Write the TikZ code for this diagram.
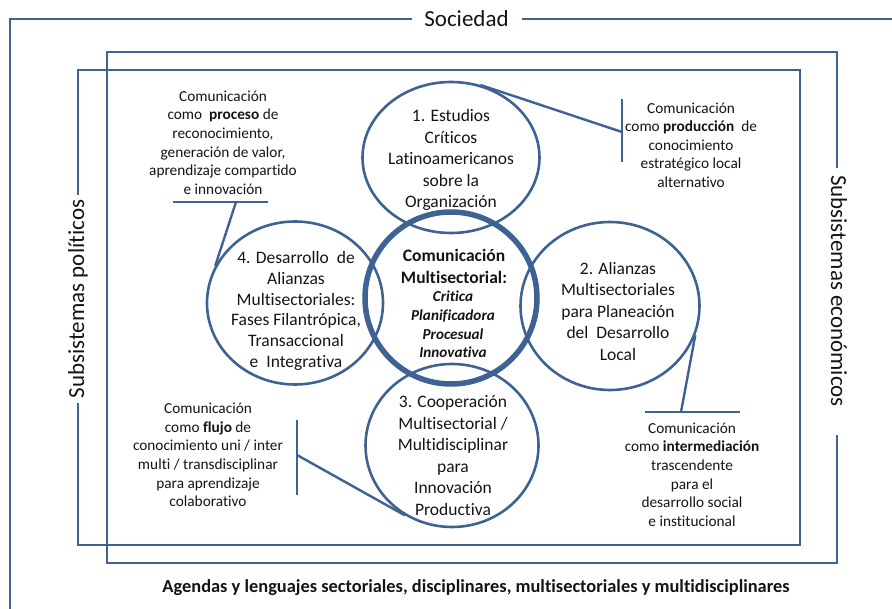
\documentclass[tikz,border=0pt]{standalone}
\usepackage{fontspec}
\setmainfont{Carlito}[Ligatures=NoCommon]
\usetikzlibrary{shapes.geometric}
\definecolor{lineblue}{RGB}{62,98,146}
\definecolor{txt}{RGB}{20,20,20}
\tikzset{
  frame/.style={draw=lineblue, line width=2.4pt, line join=miter},
  bubble/.style={ellipse, draw=lineblue, line width=2.6pt, inner sep=0pt},
  hub/.style={circle, draw=lineblue, line width=5.5pt, inner sep=0pt, minimum size=172pt},
  bubtext/.style={align=center, text=txt, font=\fontsize{17.5}{21.5}\selectfont, inner sep=0pt},
  calltext/.style={align=center, text=txt, font=\fontsize{15.3}{18.6}\selectfont, inner sep=0pt},
  callline/.style={draw=lineblue, line width=2.4pt},
  sidelabel/.style={text=txt, font=\fontsize{23}{27}\selectfont, inner sep=0pt},
}
\begin{document}
\begin{tikzpicture}[x=1pt,y=-1pt]
\useasboundingbox (0,0) rectangle (892,609);
% Sociedad frame
\node[sidelabel] (soc) at (466.5,19) {Sociedad};
\draw[frame] (892,19) -- (522,19);
\draw[frame] (412,19) -- (10,19) -- (10,609);
% economic box
\node[sidelabel, rotate=-90] (eco) at (839,291) {Subsistemas económicos};
\draw[frame] (837,168) -- (837,52) -- (107,52) -- (107,563) -- (837,563) -- (837,435);
% political box
\node[sidelabel, rotate=90] (pol) at (78,299) {Subsistemas políticos};
\draw[frame] (78,195) -- (78,70) -- (800,70) -- (800,545) -- (78,545) -- (78,403);
% bubbles
\node[bubble, minimum width=177pt, minimum height=151pt] (c1) at (451,157.5) {};
\node[bubble, minimum width=176pt, minimum height=163pt] (c4) at (295,303) {};
\node[bubble, minimum width=179pt, minimum height=168pt] (c2) at (610,306) {};
\node[bubble, minimum width=173pt, minimum height=163pt] (c3) at (452,445.5) {};
\node[hub] (c0) at (451,298) {};
% bubble texts
\node[bubtext] (t1) at (451,160) {1. Estudios\\Críticos\\Latinoamericanos\\sobre la\\Organización};
\node[bubtext, font=\fontsize{17.5}{20.7}\selectfont] (t4) at (296,311) {4. Desarrollo\ \ de\\Alianzas\\Multisectoriales:\\Fases Filantrópica,\\Transaccional\\e\ \ Integrativa};
\node[bubtext] (t2) at (618,311) {2. Alianzas\\Multisectoriales\\para Planeación\\del\ \ Desarrollo\\Local};
\node[bubtext] (t3) at (453,455.5) {3. Cooperación\\Multisectorial /\\Multidisciplinar\\para\\Innovación\\Productiva};
\node[bubtext, font=\fontsize{17.5}{22}\selectfont\bfseries] (t0a) at (454,266) {Comunicación\\Multisectorial:};
\node[bubtext, font=\fontsize{15.2}{18.7}\selectfont\bfseries\itshape] (t0b) at (453,324.5) {Critica\\Planificadora\\Procesual\\Innovativa};
% callout texts
\node[calltext] (n1) at (223,142.5) {Comunicación\\como\ \ \textbf{proceso} de\\reconocimiento,\\generación de valor,\\aprendizaje compartido\\e innovación};
\node[calltext] (n2) at (691,145) {Comunicación\\como \textbf{producción}\ \ de\\conocimiento\\estratégico local\\alternativo};
\node[calltext] (n3) at (208,455) {Comunicación\\como \textbf{flujo} de\\conocimiento uni / inter\\multi / transdisciplinar\\para aprendizaje\\colaborativo};
\node[calltext] (n4) at (692,474.5) {Comunicación\\como \textbf{intermediación}\\trascendente\\para el\\desarrollo social\\e institucional};
% callout bars and links
\draw[callline] (173,202) -- (268,202);
\coordinate (k1) at (236,202);
\draw[callline] (k1) -- (c4.155.6);
\draw[callline] (622,99) -- (622,162);
\coordinate (k2) at (622,132);
\draw[callline] (k2) -- (c1.68.9);
\draw[callline] (645,412) -- (740,412);
\coordinate (k4) at (681,412);
\draw[callline] (k4) -- (c2.-19.6);
\draw[callline] (297,420) -- (297,495);
\coordinate (k3) at (297,455);
\draw[callline] (k3) -- (c3.236.3);
% bottom caption
\node[text=txt, font=\fontsize{18.4}{22}\selectfont\bfseries, inner sep=0pt] (cap) at (476,588) {Agendas y lenguajes sectoriales, disciplinares, multisectoriales y multidisciplinares};
\end{tikzpicture}
\end{document}
